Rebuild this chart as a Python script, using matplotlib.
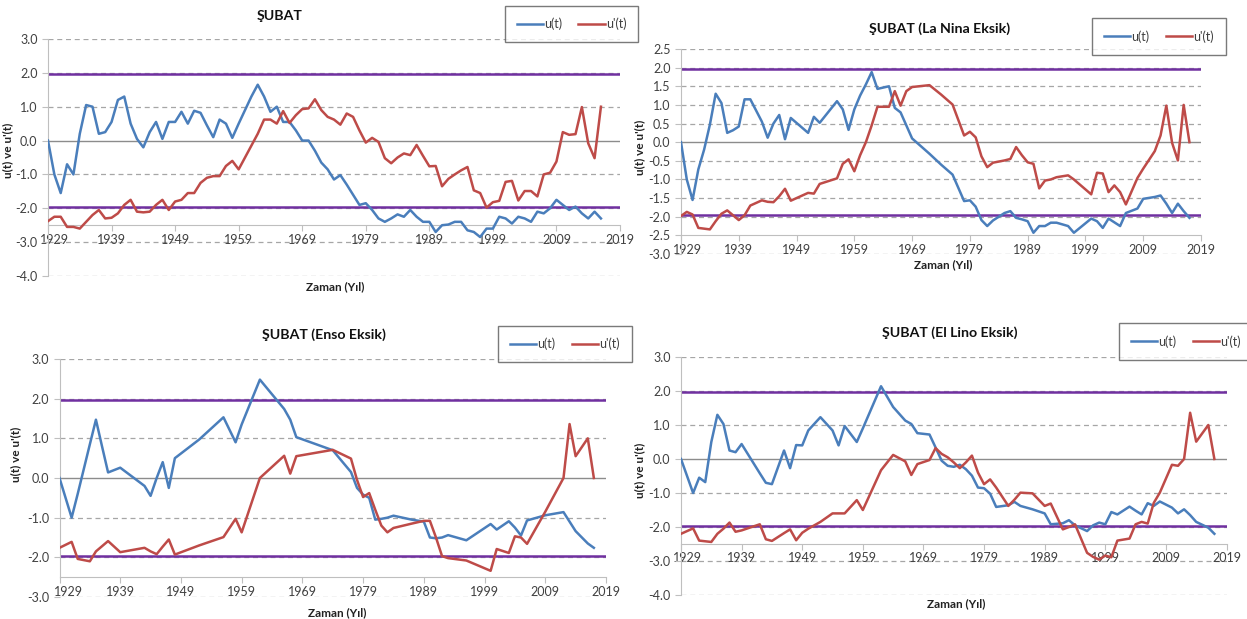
import matplotlib
matplotlib.use('Agg')
import matplotlib.pyplot as plt
import matplotlib.transforms as mtransforms
from matplotlib.ticker import FormatStrFormatter
from matplotlib.lines import Line2D

plt.rcParams['font.family'] = ['Lato', 'DejaVu Sans']

# ── data: Mann-Kendall u(t) / u'(t), ŞUBAT ───────────────────────────────────
years_all = list(range(1929, 2017))
u_all = [0.0, -1.0, -1.55, -0.7, -1.0, 0.2, 1.05, 1.0, 0.2, 0.25,
         0.55, 1.2, 1.3, 0.5, 0.05, -0.2, 0.25, 0.55, 0.05, 0.55,
         0.55, 0.85, 0.5, 0.88, 0.82, 0.45, 0.1, 0.62, 0.5, 0.08,
         0.5, 0.9, 1.3, 1.65, 1.3, 0.85, 1.0, 0.55, 0.55, 0.3,
         0.0, 0.0, -0.3, -0.65, -0.85, -1.15, -1.02, -1.3, -1.6, -1.9,
         -1.85, -2.05, -2.3, -2.4, -2.3, -2.18, -2.25, -2.05, -2.25, -2.4,
         -2.4, -2.7, -2.5, -2.48, -2.4, -2.4, -2.65, -2.7, -2.85, -2.6,
         -2.6, -2.25, -2.3, -2.45, -2.25, -2.3, -2.4, -2.1, -2.15, -2.0,
         -1.75, -1.9, -2.05, -1.95, -2.15, -2.3, -2.1, -2.3]
up_all = [-2.38, -2.25, -2.25, -2.55, -2.55, -2.6, -2.4, -2.2, -2.05, -2.3,
          -2.28, -2.15, -1.9, -1.75, -2.1, -2.12, -2.1, -1.9, -1.75, -2.05,
          -1.8, -1.75, -1.55, -1.55, -1.25, -1.1, -1.05, -1.05, -0.75, -0.6,
          -0.85, -0.5, -0.15, 0.2, 0.62, 0.62, 0.5, 0.87, 0.52, 0.75,
          0.93, 0.95, 1.22, 0.9, 0.7, 0.62, 0.47, 0.8, 0.7, 0.3,
          -0.06, 0.08, -0.04, -0.52, -0.67, -0.5, -0.38, -0.43, -0.13, -0.45,
          -0.76, -0.75, -1.35, -1.13, -1.0, -0.88, -0.78, -1.47, -1.55, -1.98,
          -1.82, -1.78, -1.22, -1.19, -1.77, -1.49, -1.49, -1.65, -1.0, -0.95,
          -0.62, 0.25, 0.17, 0.19, 0.99, -0.08, -0.52, 1.0]

years_lanina = [1929, 1930, 1931, 1932, 1933, 1934, 1935, 1936, 1937, 1938,
                1939, 1940, 1941, 1943, 1944, 1945, 1946, 1947, 1948, 1951,
                1952, 1953, 1956, 1957, 1958, 1959, 1960, 1961, 1962, 1963,
                1965, 1966, 1967, 1968, 1969, 1972, 1974, 1976, 1978, 1979,
                1980, 1981, 1982, 1983, 1985, 1986, 1987, 1988, 1989, 1990,
                1991, 1992, 1993, 1994, 1996, 1997, 2000, 2001, 2002, 2003,
                2004, 2005, 2006, 2008, 2009, 2011, 2012, 2013, 2014, 2015,
                2016, 2017]
u_lanina = [0.0, -1.0, -1.55, -0.73, -0.2, 0.47, 1.3, 1.05, 0.25, 0.32,
            0.42, 1.15, 1.15, 0.55, 0.12, 0.5, 0.73, 0.08, 0.65, 0.25,
            0.68, 0.52, 1.1, 0.88, 0.33, 0.88, 1.25, 1.55, 1.88, 1.43,
            1.5, 0.92, 0.8, 0.45, 0.1, -0.31, -0.6, -0.87, -1.58, -1.56,
            -1.73, -2.09, -2.25, -2.1, -1.9, -1.85, -2.03, -2.07, -2.12, -2.43,
            -2.25, -2.25, -2.16, -2.16, -2.25, -2.43, -2.05, -2.12, -2.3, -2.05,
            -2.15, -2.25, -1.9, -1.78, -1.52, -1.47, -1.43, -1.65, -1.9, -1.65,
            -1.85, -2.03]
up_lanina = [-1.98, -1.87, -1.94, -2.3, -2.32, -2.34, -2.12, -1.92, -1.83, -1.96,
             -2.09, -1.96, -1.7, -1.56, -1.6, -1.61, -1.45, -1.25, -1.57, -1.36,
             -1.38, -1.12, -0.97, -0.58, -0.46, -0.78, -0.35, 0.0, 0.45, 0.95,
             0.95, 1.37, 0.98, 1.37, 1.48, 1.53, 1.28, 1.01, 0.18, 0.28,
             0.13, -0.38, -0.67, -0.55, -0.49, -0.45, -0.13, -0.35, -0.54, -0.58,
             -1.24, -1.03, -1.0, -0.94, -0.89, -1.0, -1.4, -0.82, -0.84, -1.34,
             -1.16, -1.34, -1.67, -0.96, -0.71, -0.24, 0.18, 0.98, -0.02, -0.49,
             1.0, 0.0]

years_enso = [1929, 1931, 1932, 1934, 1935, 1936, 1937, 1939, 1943, 1944,
              1945, 1946, 1947, 1948, 1952, 1956, 1958, 1959, 1962, 1966,
              1967, 1968, 1974, 1977, 1978, 1979, 1980, 1981, 1982, 1983,
              1984, 1987, 1989, 1990, 1991, 1992, 1993, 1996, 2000, 2001,
              2003, 2004, 2005, 2006, 2009, 2012, 2013, 2014, 2016, 2017]
u_enso = [0.0, -1.0, -0.4, 0.85, 1.47, 0.8, 0.14, 0.26, -0.2, -0.45,
          0.0, 0.4, -0.25, 0.5, 0.97, 1.53, 0.9, 1.35, 2.48, 1.74,
          1.47, 1.03, 0.7, 0.15, -0.25, -0.42, -0.5, -1.05, -1.03, -1.0,
          -0.95, -1.05, -1.1, -1.5, -1.52, -1.5, -1.44, -1.57, -1.16, -1.3,
          -1.09, -1.25, -1.45, -1.07, -0.94, -0.86, -1.1, -1.34, -1.65, -1.76]
up_enso = [-1.76, -1.61, -2.04, -2.1, -1.85, -1.72, -1.59, -1.87, -1.76, -1.85,
           -1.92, -1.73, -1.55, -1.93, -1.7, -1.49, -1.03, -1.37, 0.0, 0.56,
           0.11, 0.55, 0.71, 0.49, -0.05, -0.48, -0.38, -0.8, -1.2, -1.37,
           -1.26, -1.15, -1.08, -1.08, -1.5, -1.97, -2.02, -2.08, -2.34, -1.79,
           -1.89, -1.47, -1.5, -1.66, -0.85, 0.0, 1.36, 0.55, 1.0, 0.0]

years_elnino = [1929, 1931, 1932, 1933, 1934, 1935, 1936, 1937, 1938, 1939,
                1942, 1943, 1944, 1946, 1947, 1948, 1949, 1950, 1952, 1954,
                1955, 1956, 1958, 1959, 1962, 1964, 1966, 1967, 1968, 1970,
                1971, 1972, 1973, 1974, 1975, 1976, 1977, 1978, 1979, 1980,
                1981, 1983, 1984, 1985, 1987, 1989, 1990, 1992, 1993, 1994,
                1996, 1997, 1998, 1999, 2000, 2001, 2003, 2004, 2005, 2006,
                2007, 2008, 2010, 2011, 2012, 2013, 2014, 2016, 2017]
u_elnino = [0.0, -1.0, -0.55, -0.68, 0.5, 1.3, 1.03, 0.25, 0.2, 0.44,
            -0.42, -0.7, -0.74, 0.25, -0.27, 0.41, 0.4, 0.84, 1.23, 0.84,
            0.4, 0.97, 0.5, 0.9, 2.14, 1.53, 1.13, 1.03, 0.76, 0.72,
            0.34, -0.05, -0.2, -0.23, -0.17, -0.3, -0.49, -0.84, -0.86, -1.02,
            -1.41, -1.36, -1.26, -1.38, -1.48, -1.6, -1.92, -1.89, -1.8, -1.95,
            -2.12, -1.95, -1.87, -1.92, -1.56, -1.63, -1.4, -1.52, -1.63, -1.3,
            -1.38, -1.25, -1.43, -1.6, -1.48, -1.65, -1.85, -2.02, -2.2]
up_elnino = [-2.2, -2.04, -2.4, -2.42, -2.44, -2.2, -2.05, -1.87, -2.14, -2.1,
             -1.92, -2.36, -2.41, -2.18, -2.07, -2.39, -2.17, -2.05, -1.85, -1.6,
             -1.6, -1.6, -1.21, -1.5, -0.33, 0.12, -0.07, -0.47, -0.15, -0.03,
             0.32, 0.15, 0.05, -0.1, -0.27, -0.1, 0.1, -0.4, -0.74, -0.6,
             -0.84, -1.38, -1.2, -0.99, -1.01, -1.38, -1.31, -2.07, -2.0, -1.92,
             -2.76, -2.88, -2.96, -2.84, -2.89, -2.4, -2.34, -1.92, -1.85, -1.9,
             -1.29, -0.99, -0.17, -0.2, 0.0, 1.36, 0.51, 1.0, 0.0]

x_ticks = [1929, 1939, 1949, 1959, 1969, 1979, 1989, 1999, 2009, 2019]
crit = 1.96

# ── estilo ───────────────────────────────────────────────────────────────────
W, H = 1247, 619
C_U = '#4a7ebb'
C_UP = '#be4b48'
C_PURPLE = '#7030a0'
C_GRID = '#a6a6a6'
C_AXIS = '#bfbfbf'
C_TXT = '#404040'


def fx(px):
    return px / W


def fy(py):
    return 1 - py / H


def estilo_ax(ax, ylim, ystep, spine_low):
    ax.set_xlim(1929, 2019)
    ax.set_ylim(*ylim)
    n = int(round((ylim[1] - ylim[0]) / ystep))
    yt = [round(ylim[0] + i * ystep, 2) for i in range(n + 1)]
    ax.set_yticks(yt)
    ax.set_xticks(x_ticks)
    ax.yaxis.set_major_formatter(FormatStrFormatter('%.1f'))
    for y in yt:
        if abs(y) < 1e-9 or abs(y + 2.5) < 1e-9:
            continue
        ax.axhline(y, color=C_GRID, linewidth=0.9, linestyle=(0, (4, 3)), zorder=0)
    ax.axhline(0, color='#8c8c8c', linewidth=1.0, zorder=1)
    ax.axhline(crit, color=C_PURPLE, linewidth=1.8, zorder=2)
    ax.axhline(-crit, color=C_PURPLE, linewidth=1.8, zorder=2)
    ax.spines['top'].set_visible(False)
    ax.spines['right'].set_visible(False)
    ax.spines['left'].set_color(C_AXIS)
    ax.spines['left'].set_bounds(spine_low, ylim[1])
    ax.spines['bottom'].set_color(C_AXIS)
    ax.spines['bottom'].set_position(('data', -2.5))
    ax.tick_params(axis='both', labelsize=9, colors=C_TXT, length=4, width=0.8)
    ax.tick_params(axis='both', color=C_AXIS)
    ax.tick_params(axis='x', pad=2)
    ax.set_facecolor('none')


panels = [
    dict(x=years_all, u=u_all, up=up_all, ylim=(-4.0, 3.0), ystep=1.0, low=-4.0,
         box=(48, 39, 620, 276), title='ŞUBAT', tpos=(280, 16), shift=6,
         xl=(335, 287), yl=(-0.061, 0.53), leg=(505, 7, 638, 41)),
    dict(x=years_lanina, u=u_lanina, up=up_lanina, ylim=(-3.0, 2.5), ystep=0.5, low=-3.0,
         box=(681, 49, 1201, 254), title='ŞUBAT (La Nina Eksik)', tpos=(940, 29), shift=6,
         xl=(943, 265), yl=(-0.069, 0.52), leg=(1097, 22, 1221, 51)),
    dict(x=years_enso, u=u_enso, up=up_enso, ylim=(-3.0, 3.0), ystep=1.0, low=-2.5,
         box=(59.5, 359, 606, 597), title='ŞUBAT (Enso Eksik)', tpos=(324, 335), shift=9,
         xl=(337, 613), yl=(-0.071, 0.6), leg=(500, 327, 630, 361)),
    dict(x=years_elnino, u=u_elnino, up=up_elnino, ylim=(-4.0, 3.0), ystep=1.0, low=-4.0,
         box=(681, 357, 1226.5, 595), title='ŞUBAT (El Lino Eksik)', tpos=(950, 333), shift=6,
         xl=(956, 604), yl=(-0.066, 0.525), leg=(1120, 325, 1252, 358)),
]

fig = plt.figure(figsize=(W / 100, H / 100), dpi=100, facecolor='white')

for p in panels:
    assert len(p['x']) == len(p['u']) == len(p['up']), p['title']
    x0, y0, x1, y1 = p['box']
    ax = fig.add_axes([fx(x0), fy(y1), fx(x1 - x0), (y1 - y0) / H])
    estilo_ax(ax, p['ylim'], p['ystep'], p['low'])
    ax.plot(p['x'], p['u'], color=C_U, linewidth=1.8, zorder=4)
    ax.plot(p['x'], p['up'], color=C_UP, linewidth=1.8, zorder=4)
    ax.set_ylabel("u(t) ve u'(t)", fontsize=8.5, fontweight='bold', color='#222222')
    ax.yaxis.set_label_coords(*p['yl'])

    # primer año desplazado a la derecha como en Excel
    first = ax.get_xticklabels()[0]
    first.set_transform(first.get_transform() +
                        mtransforms.ScaledTranslation(p['shift'] / 100, 0, fig.dpi_scale_trans))

    fig.text(fx(p['tpos'][0]), fy(p['tpos'][1]), p['title'], ha='center', va='center',
             fontsize=10.2, fontweight='bold', color='#111111')
    fig.text(fx(p['xl'][0]), fy(p['xl'][1]), 'Zaman (Yıl)', ha='center', va='center',
             fontsize=8.5, fontweight='bold', color='#222222')

    lx0, ly0, lx1, ly1 = p['leg']
    handles = [Line2D([], [], color=C_U, linewidth=1.8),
               Line2D([], [], color=C_UP, linewidth=1.8)]
    leg = fig.legend(handles, ['u(t)', "u'(t)"], ncol=2, loc='center',
                     bbox_to_anchor=(fx((lx0 + lx1) / 2), fy((ly0 + ly1) / 2)),
                     fontsize=9, frameon=True, fancybox=False,
                     handlelength=2.1, handletextpad=0.1, columnspacing=1.3,
                     borderpad=0.95, labelcolor=C_TXT)
    leg.get_frame().set_edgecolor('#595959')
    leg.get_frame().set_linewidth(1.0)

fig.savefig('out.png', dpi=100, facecolor='white')
